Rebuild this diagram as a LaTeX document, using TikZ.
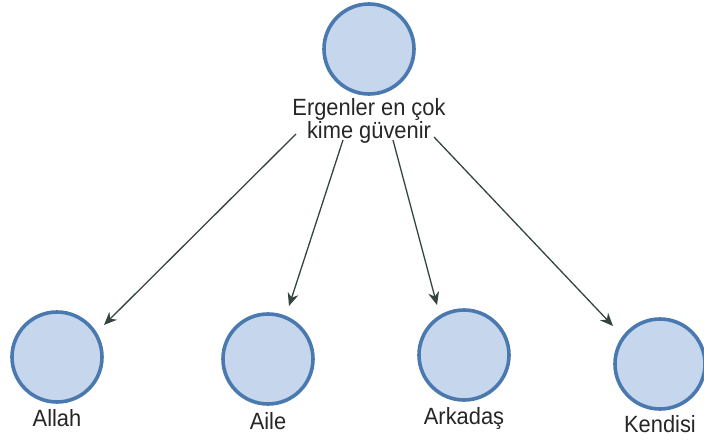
\documentclass[tikz,border=0pt]{standalone}
\usepackage{fontspec}
\setmainfont{Liberation Sans}
\newfontfamily\lblfont[FakeStretch=0.93]{Liberation Sans}
\usetikzlibrary{arrows.meta}
\definecolor{cfill}{HTML}{C6D6EC}
\definecolor{cline}{HTML}{4A79B0}
\definecolor{aline}{HTML}{34443F}
\tikzset{
  ball/.style={circle, draw=cline, fill=cfill, line width=3.6pt, minimum size=90pt, inner sep=0pt},
  lbl/.style={font=\lblfont\fontsize{23.5}{23}\selectfont, align=center, inner sep=0pt, text=black!85},
  conn/.style={draw=aline, line width=1.3pt, -{Stealth[length=13pt,width=11pt]}}
}
\begin{document}
\begin{tikzpicture}[x=1pt,y=-1pt]
\useasboundingbox (0,0) rectangle (704,441);
\node[ball] (top) at (369,49) {};
\node[lbl, anchor=north] (toplbl) at (369,98) {Ergenler en çok\\kime güvenir};
\node[ball] (allah) at (57,357) {};
\node[ball] (aile) at (268,359) {};
\node[ball] (arkadas) at (464,355) {};
\node[ball] (kendisi) at (660,364) {};
\node[lbl] (lallah) at (57,418) {Allah};
\node[lbl] (laile) at (268,421) {Aile};
\node[lbl] (larkadas) at (464,418) {Arkadaş};
\node[lbl] (lkendisi) at (660,424) {Kendisi};
\coordinate (s1) at (296,134);
\coordinate (s2) at (343,140);
\coordinate (s3) at (393,140);
\coordinate (s4) at (434,137);
\coordinate (e1) at (104,325);
\coordinate (e2) at (289,306);
\coordinate (e3) at (437,305);
\coordinate (e4) at (613,326);
\draw[conn] (s1) -- (e1);
\draw[conn] (s2) -- (e2);
\draw[conn] (s3) -- (e3);
\draw[conn] (s4) -- (e4);
\end{tikzpicture}
\end{document}
